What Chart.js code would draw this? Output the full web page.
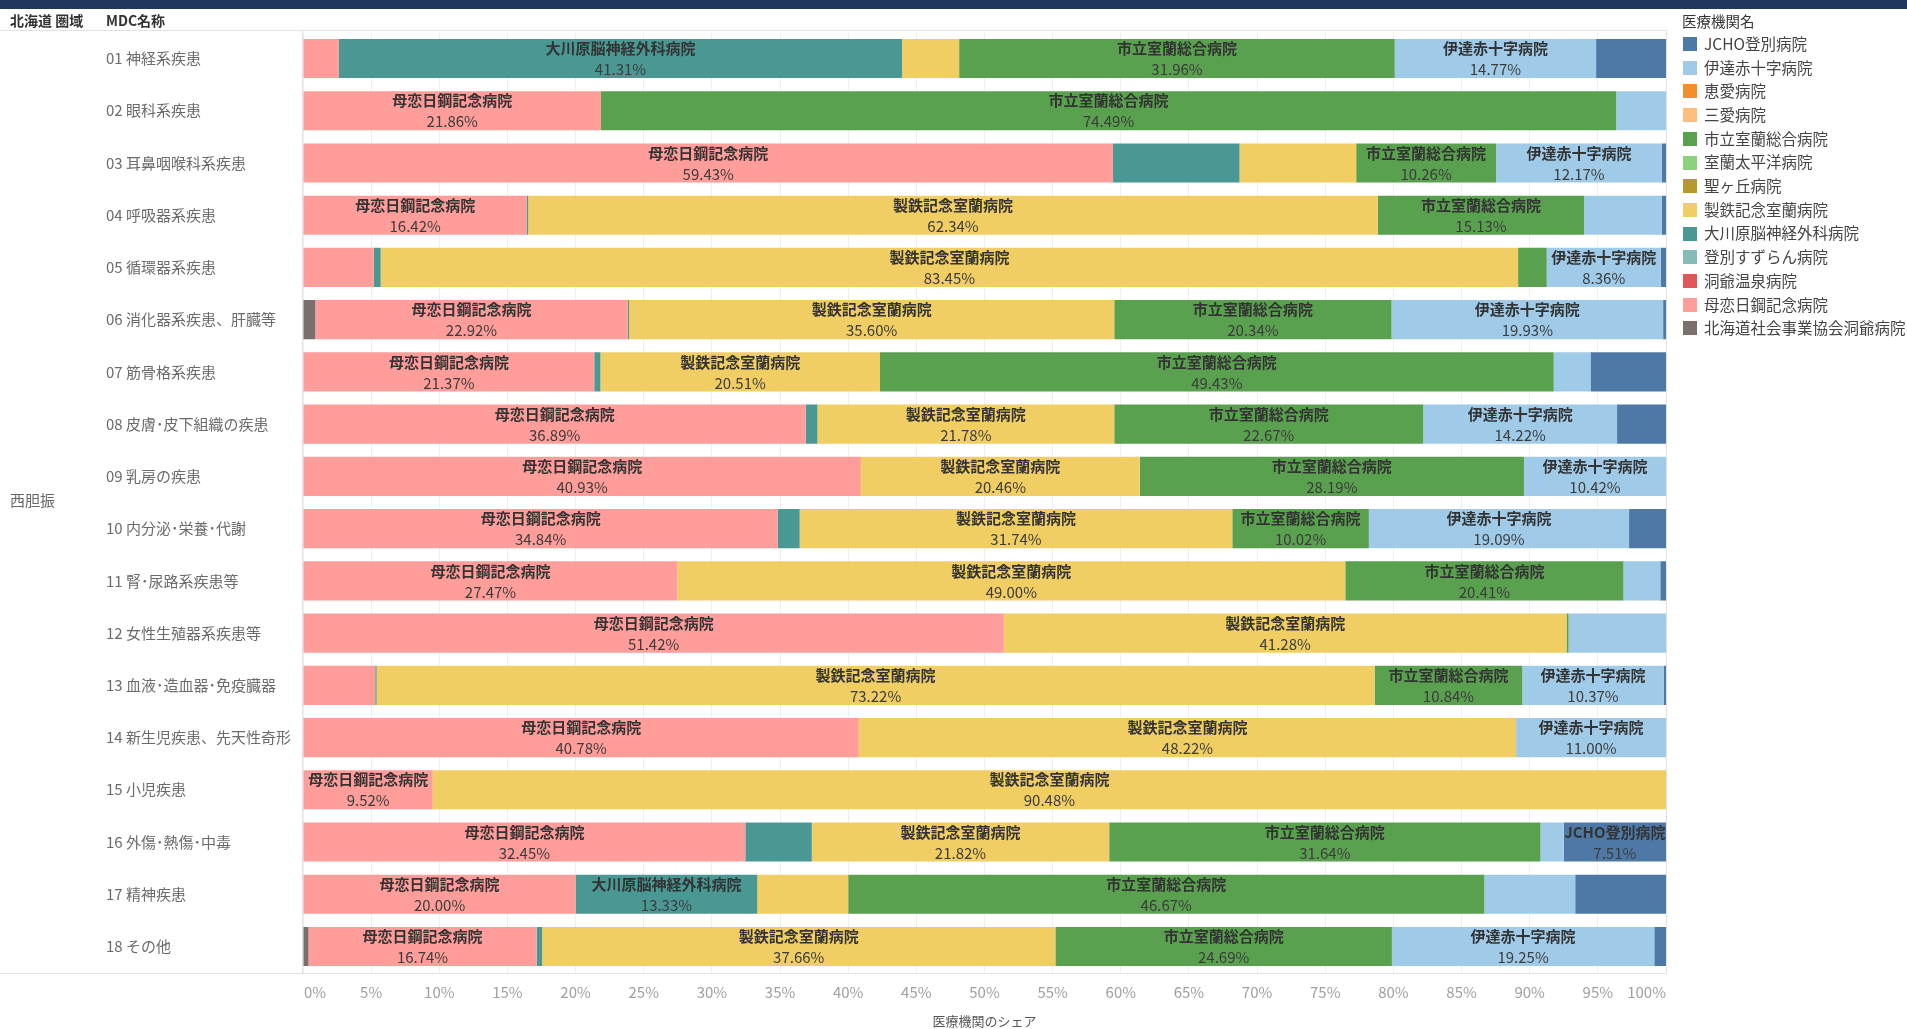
<!DOCTYPE html>
<html lang="ja">
<head>
<meta charset="utf-8">
<title>西胆振 MDC別 医療機関のシェア</title>
<script src="https://cdn.jsdelivr.net/npm/chart.js@4.4.1/dist/chart.umd.min.js"></script>
<style>
html,body{margin:0;padding:0;background:#fff;overflow:hidden;}
#wrap{position:relative;width:1907px;height:1029px;}
canvas{display:block;}
</style>
</head>
<body>
<div id="wrap"><canvas id="c" width="1907" height="1029"></canvas></div>
<script>
// ---------------- DATA ----------------
const region = '西胆振';
const categories = [
  '01 神経系疾患', '02 眼科系疾患', '03 耳鼻咽喉科系疾患', '04 呼吸器系疾患',
  '05 循環器系疾患', '06 消化器系疾患、肝臓等', '07 筋骨格系疾患', '08 皮膚･皮下組織の疾患',
  '09 乳房の疾患', '10 内分泌･栄養･代謝', '11 腎･尿路系疾患等', '12 女性生殖器系疾患等',
  '13 血液･造血器･免疫臓器', '14 新生児疾患、先天性奇形', '15 小児疾患', '16 外傷･熱傷･中毒',
  '17 精神疾患', '18 その他'
];

// hospital names in legend order (top to bottom)
const legendNames = [
  'JCHO登別病院', '伊達赤十字病院', '恵愛病院', '三愛病院', '市立室蘭総合病院',
  '室蘭太平洋病院', '聖ヶ丘病院', '製鉄記念室蘭病院', '大川原脳神経外科病院',
  '登別すずらん病院', '洞爺温泉病院', '母恋日鋼記念病院', '北海道社会事業協会洞爺病院'
];
const legendColors = [
  '#4e79a7', '#a0cbe8', '#f28e2b', '#ffbe7d', '#59a14f',
  '#8cd17d', '#b6992d', '#f1ce63', '#499894',
  '#86bcb6', '#e15759', '#ff9d9a', '#79706e'
];

// share (%) per hospital, one value per MDC category (01..18)
const shareJCHO      = [5.13, 0, 0.30, 0.30, 0.39, 0.21, 5.54, 3.59, 0, 2.71, 0.42, 0, 0.17, 0, 0, 7.51, 6.67, 0.86];
const shareDate      = [14.77, 3.65, 12.17, 5.71, 8.36, 19.93, 2.70, 14.22, 10.42, 19.09, 2.70, 7.15, 10.37, 11.00, 0, 1.70, 6.67, 19.25];
const shareKeiai     = [0, 0, 0, 0, 0, 0, 0, 0, 0, 0, 0, 0, 0, 0, 0, 0, 0, 0];
const shareSanai     = [0, 0, 0, 0, 0, 0, 0, 0, 0, 0, 0, 0, 0, 0, 0, 0, 0, 0];
const shareShiritsu  = [31.96, 74.49, 10.26, 15.13, 2.10, 20.34, 49.43, 22.67, 28.19, 10.02, 20.41, 0.15, 10.84, 0, 0, 31.64, 46.67, 24.69];
const shareTaiheiyo  = [0, 0, 0, 0, 0, 0, 0, 0, 0, 0, 0, 0, 0, 0, 0, 0, 0, 0];
const shareHijirigaoka = [0, 0, 0, 0, 0, 0, 0, 0, 0, 0, 0, 0, 0, 0, 0, 0, 0, 0];
const shareSeitetsu  = [4.19, 0, 8.56, 62.34, 83.45, 35.60, 20.51, 21.78, 20.46, 31.74, 49.00, 41.28, 73.22, 48.22, 90.48, 21.82, 6.67, 37.66];
const shareOkawara   = [41.31, 0, 9.28, 0.10, 0.50, 0.10, 0.45, 0.85, 0, 1.60, 0, 0, 0.10, 0, 0, 4.88, 13.33, 0.40];
const shareSuzuran   = [0, 0, 0, 0, 0, 0, 0, 0, 0, 0, 0, 0, 0, 0, 0, 0, 0, 0];
const shareToyaOnsen = [0, 0, 0, 0, 0, 0, 0, 0, 0, 0, 0, 0, 0, 0, 0, 0, 0, 0];
const shareBokoi     = [2.64, 21.86, 59.43, 16.42, 5.20, 22.92, 21.37, 36.89, 40.93, 34.84, 27.47, 51.42, 5.30, 40.78, 9.52, 32.45, 20.00, 16.74];
const shareToya      = [0, 0, 0, 0, 0, 0.90, 0, 0, 0, 0, 0, 0, 0, 0, 0, 0, 0, 0.40];

const legendShares = [
  shareJCHO, shareDate, shareKeiai, shareSanai, shareShiritsu, shareTaiheiyo,
  shareHijirigaoka, shareSeitetsu, shareOkawara, shareSuzuran, shareToyaOnsen,
  shareBokoi, shareToya
];

const xAxisTitle = '医療機関のシェア';
const headerRegion = '北海道 圏域';
const headerMdc = 'MDC名称';
const legendTitle = '医療機関名';

// ---------------- CHART ----------------
const FONT = '"Noto Sans CJK JP", "Noto Sans", sans-serif';

// stacks run left-to-right in reverse legend order
const datasets = legendNames.map((name, i) => ({
  label: name,
  data: legendShares[i],
  backgroundColor: legendColors[i],
  borderWidth: 0,
  barPercentage: 0.75,
  categoryPercentage: 1.0
})).reverse();

const decor = {
  id: 'decor',
  beforeDraw(chart) {
    const {ctx, width, height} = chart;
    ctx.save();
    ctx.fillStyle = '#ffffff';
    ctx.fillRect(0, 0, width, height);
    ctx.fillStyle = '#21375e';
    ctx.fillRect(0, 0, width, 9);
    ctx.restore();
  },
  beforeDatasetsDraw(chart) {
    const {ctx, chartArea: a} = chart;
    ctx.save();
    ctx.strokeStyle = '#e2e2e2';
    ctx.lineWidth = 1;
    const top = Math.round(a.top) - 2 + 0.5;
    const bot = Math.round(a.bottom) + 0.5;
    ctx.beginPath();
    ctx.moveTo(0, top); ctx.lineTo(Math.round(a.right) + 0.5, top);
    ctx.moveTo(0, bot); ctx.lineTo(Math.round(a.right) + 0.5, bot);
    ctx.moveTo(Math.round(a.left) - 0.5, top); ctx.lineTo(Math.round(a.left) - 0.5, bot);
    ctx.moveTo(Math.round(a.right) + 0.5, top); ctx.lineTo(Math.round(a.right) + 0.5, bot);
    ctx.stroke();
    ctx.restore();
  },
  afterDatasetsDraw(chart) {
    const {ctx} = chart;
    ctx.save();
    ctx.textAlign = 'center';
    ctx.textBaseline = 'middle';
    chart.data.datasets.forEach((ds, di) => {
      const meta = chart.getDatasetMeta(di);
      meta.data.forEach((bar, i) => {
        const v = ds.data[i];
        if (!v) return;
        const p = bar.getProps(['x', 'base', 'y'], true);
        const left = Math.min(p.x, p.base), right = Math.max(p.x, p.base);
        const w = right - left;
        ctx.font = 'bold 15px ' + FONT;
        if (ctx.measureText(ds.label).width > w) return;
        const cx = (left + right) / 2;
        ctx.fillStyle = '#333333';
        ctx.fillText(ds.label, cx, p.y - 10);
        ctx.font = '15px ' + FONT;
        ctx.fillStyle = '#3c3c3c';
        ctx.fillText(v.toFixed(2) + '%', cx, p.y + 11);
      });
    });
    ctx.restore();
  },
  afterDraw(chart) {
    const {ctx, chartArea: a} = chart;
    const xs = chart.scales.x;
    ctx.save();
    // header
    ctx.textBaseline = 'middle';
    ctx.textAlign = 'left';
    ctx.fillStyle = '#333333';
    ctx.font = 'bold 14px ' + FONT;
    ctx.fillText(headerRegion, 10, 21);
    ctx.fillText(headerMdc, 106, 21);
    // region group label
    ctx.font = '15px ' + FONT;
    ctx.fillStyle = '#666666';
    ctx.fillText(region, 10, (a.top + a.bottom) / 2 - 2);
    // x ticks (clamped inside the plot like the original)
    ctx.font = '15px ' + FONT;
    ctx.fillStyle = '#a0a0a0';
    xs.ticks.forEach(t => {
      const label = t.value + '%';
      const px = xs.getPixelForValue(t.value);
      const tw = ctx.measureText(label).width;
      let lx = px - tw / 2;
      lx = Math.max(a.left + 1, Math.min(a.right - tw, lx));
      ctx.fillText(label, lx, 992);
    });
    // x title
    ctx.textAlign = 'center';
    ctx.font = '13px ' + FONT;
    ctx.fillStyle = '#555555';
    ctx.fillText(xAxisTitle, (a.left + a.right) / 2, 1021);
    // legend
    ctx.textAlign = 'left';
    ctx.font = '14.5px ' + FONT;
    ctx.fillStyle = '#333333';
    ctx.fillText(legendTitle, 1682, 21);
    ctx.font = '15.5px ' + FONT;
    legendNames.forEach((n, i) => {
      const cy = 44 + i * 23.7;
      ctx.fillStyle = legendColors[i];
      ctx.fillRect(1683, Math.round(cy - 7), 14, 14);
      ctx.fillStyle = '#444444';
      ctx.fillText(n, 1704, cy);
    });
    ctx.restore();
  }
};

new Chart(document.getElementById('c'), {
  type: 'bar',
  data: { labels: categories, datasets },
  options: {
    indexAxis: 'y',
    responsive: false,
    animation: false,
    devicePixelRatio: 1,
    layout: { padding: { left: 106, right: 241, top: 32.4, bottom: 56.4 } },
    plugins: { legend: { display: false }, tooltip: { enabled: false } },
    scales: {
      x: {
        stacked: true,
        min: 0, max: 100,
        grid: { color: '#efefef', drawTicks: false },
        border: { display: false },
        ticks: { stepSize: 5, display: false }
      },
      y: {
        stacked: true,
        grid: { display: false, drawTicks: false },
        border: { display: false },
        ticks: {
          crossAlign: 'far',
          autoSkip: false,
          padding: 0,
          color: '#6b6b6b',
          font: { family: FONT, size: 15 }
        },
        afterFit(scale) { scale.width = 197; }
      }
    }
  },
  plugins: [decor]
});
</script>
</body>
</html>
